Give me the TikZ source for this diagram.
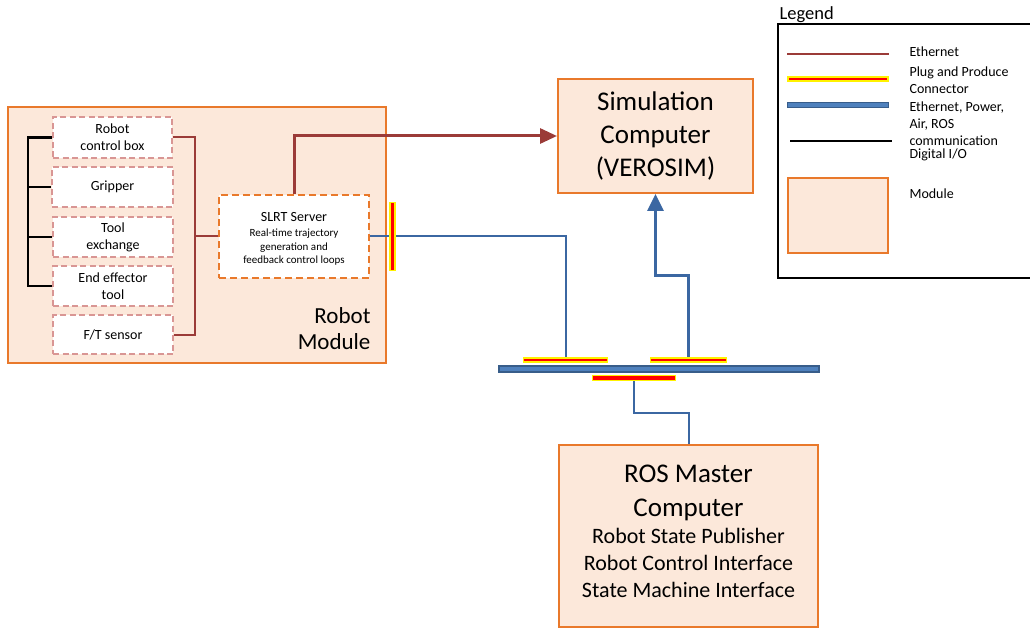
\documentclass[tikz,border=0pt]{standalone}
\usepackage{fontspec}
\setmainfont{Carlito}
\usetikzlibrary{arrows.meta}

\definecolor{modfill}{HTML}{FCE8DA}
\definecolor{modedge}{HTML}{E9792B}
\definecolor{partedge}{HTML}{D99694}
\definecolor{ethbrown}{HTML}{9B3B38}
\definecolor{busfill}{HTML}{4F81BD}
\definecolor{busedge}{HTML}{385D8A}
\definecolor{pplblue}{HTML}{3B67A2}

\begin{document}
\begin{tikzpicture}[x=1pt,y=-1pt,
  module/.style={draw=modedge, fill=modfill, line width=2pt, inner sep=0pt},
  part/.style={draw=partedge, fill=white, line width=1.5pt,
    dash pattern=on 6pt off 3.5pt, inner sep=0pt, align=center,
    font=\fontsize{14}{17}\selectfont},
  server/.style={draw=modedge, fill=white, line width=2pt,
    dash pattern=on 7pt off 4pt, inner sep=0pt},
  plugbar/.style={fill=red, draw=yellow, line width=1.6pt, inner sep=0pt},
  busbar/.style={fill=busfill, draw=busedge, line width=1.2pt, inner sep=0pt},
  eth/.style={draw=ethbrown, line width=2pt},
  ethmain/.style={draw=ethbrown, line width=3pt, -{Triangle[length=17pt,width=15pt]}},
  ppl/.style={draw=pplblue, line width=2pt},
  pplmain/.style={draw=pplblue, line width=3pt, -{Triangle[length=17pt,width=16pt]}},
  dio/.style={draw=black, line width=2.4pt},
  legtext/.style={anchor=base west, align=left, font=\fontsize{14}{17}\selectfont}
]
\useasboundingbox (0,0) rectangle (1030,628);

% Robot module and its parts
\node[module, minimum width=378pt, minimum height=256pt] (robot) at (197,235) {};
\node[part, minimum width=119pt, minimum height=41pt] (rcb) at (112.5,137.5) {Robot\\control box};
\node[part, minimum width=121pt, minimum height=40pt] (grip) at (112.5,187) {Gripper};
\node[part, minimum width=120pt, minimum height=40pt] (tool) at (113,237) {Tool\\exchange};
\node[part, minimum width=120pt, minimum height=40pt] (eff) at (113,286) {End effector\\tool};
\node[part, minimum width=120pt, minimum height=39pt] (ft) at (113,334.5) {F/T sensor};
\node[server, minimum width=150pt, minimum height=83pt] (slrt) at (294,236.5) {};
\node[anchor=base, font=\fontsize{14}{17}\selectfont] (slrtname) at (294,222) {SLRT Server};
% multi-line texts below are placed by the baseline of their last line
\node[anchor=base, align=center, font=\fontsize{11}{13}\selectfont] (slrtdesc) at (294,263)
  {Real-time trajectory\\generation and\\feedback control loops};
\node[anchor=base east, align=right, font=\fontsize{23}{26}\selectfont] (robotlbl) at (374,349) {Robot\\Module};

% Simulation computer
\node[module, minimum width=195pt, minimum height=114pt, align=center,
  font=\fontsize{27}{33}\selectfont] (sim) at (655.5,136) {Simulation\\Computer\\(VEROSIM)};

% ROS master computer
\node[module, minimum width=259pt, minimum height=182pt] (ros) at (688.5,536) {};
\node[anchor=base, align=center, font=\fontsize{27}{34}\selectfont] (rostitle) at (688.5,516) {ROS Master\\Computer};
\node[anchor=base, align=center, font=\fontsize{22}{27}\selectfont] (rosdesc) at (688.5,597)
  {Robot State Publisher\\Robot Control Interface\\State Machine Interface};

% Bus with plug-and-produce connectors
\node[busbar, minimum width=320pt, minimum height=6pt] (bus) at (659,369) {};

% Digital I/O bracket
\coordinate (dioline) at (28,0);
\draw[dio] (rcb.west) -- (rcb.west -| dioline) -- (eff.west -| dioline) -- (eff.west);
\draw[dio] (grip.west -| dioline) -- (grip.west);
\draw[dio] (tool.west -| dioline) -- (tool.west);

% Ethernet inside the robot module
\coordinate (ethjoin) at (195,237);
\draw[eth] (rcb.east) -| (ethjoin) |- (ft.east);
\draw[eth] (ethjoin) -- (slrt.west -| ethjoin) -- (slrt.west);
\draw[ethmain] (slrt.north) |- (sim.west);

% Plug-and-produce connectors
\node[plugbar, minimum width=84pt, minimum height=4.5pt] (pc1) at (565.5,360) {};
\node[plugbar, minimum width=76pt, minimum height=4.5pt] (pc2) at (688.5,360) {};
\node[plugbar, minimum width=83pt, minimum height=5pt] (pc3) at (634,378) {};

% Power/air/ROS links
\draw[ppl] (slrt.east) -| (pc1.north);
\node[plugbar, minimum width=4.5pt, minimum height=68pt] (pcv) at (392.5,236.5) {};
\coordinate (simlevel) at (0,275);
\draw[pplmain] (pc2.north) |- (sim.south |- simlevel) -- (sim.south);
\coordinate (roslevel) at (0,413);
\draw[ppl] (pc3.south) -- (pc3.south |- roslevel) -| (ros.north);

% Legend
\node[anchor=base west, font=\fontsize{18.5}{22}\selectfont] (legtitle) at (776,19.5) {\underline{Legend}};
\coordinate (legtl) at (778,24);
\coordinate (legbr) at (1030,278);
\draw[line width=1.5pt] (legbr |- legtl) -- (legtl) -- (legtl |- legbr) -- (legbr);
\coordinate (lethA) at (787,54);  \coordinate (lethB) at (889,54);
\draw[draw=ethbrown, line width=1.2pt] (lethA) -- (lethB);
\node[plugbar, minimum width=100pt, minimum height=4.5pt] (legplug) at (838,79) {};
\node[busbar, minimum width=101pt, minimum height=5pt] (legbus) at (838,105) {};
\coordinate (ldioA) at (790,141); \coordinate (ldioB) at (892,141);
\draw[line width=1.5pt] (ldioA) -- (ldioB);
\node[module, minimum width=100pt, minimum height=75pt] (legmod) at (838,215.5) {};
\node[legtext] (lt1) at (906,57) {Ethernet};
\node[legtext] (lt2) at (906,94) {Plug and Produce\\Connector};
\node[legtext] (lt3) at (906,146) {Ethernet, Power,\\Air, ROS\\communication};
\node[legtext] (lt4) at (906,159) {Digital I/O};
\node[legtext] (lt5) at (906,199) {Module};
\end{tikzpicture}
\end{document}
